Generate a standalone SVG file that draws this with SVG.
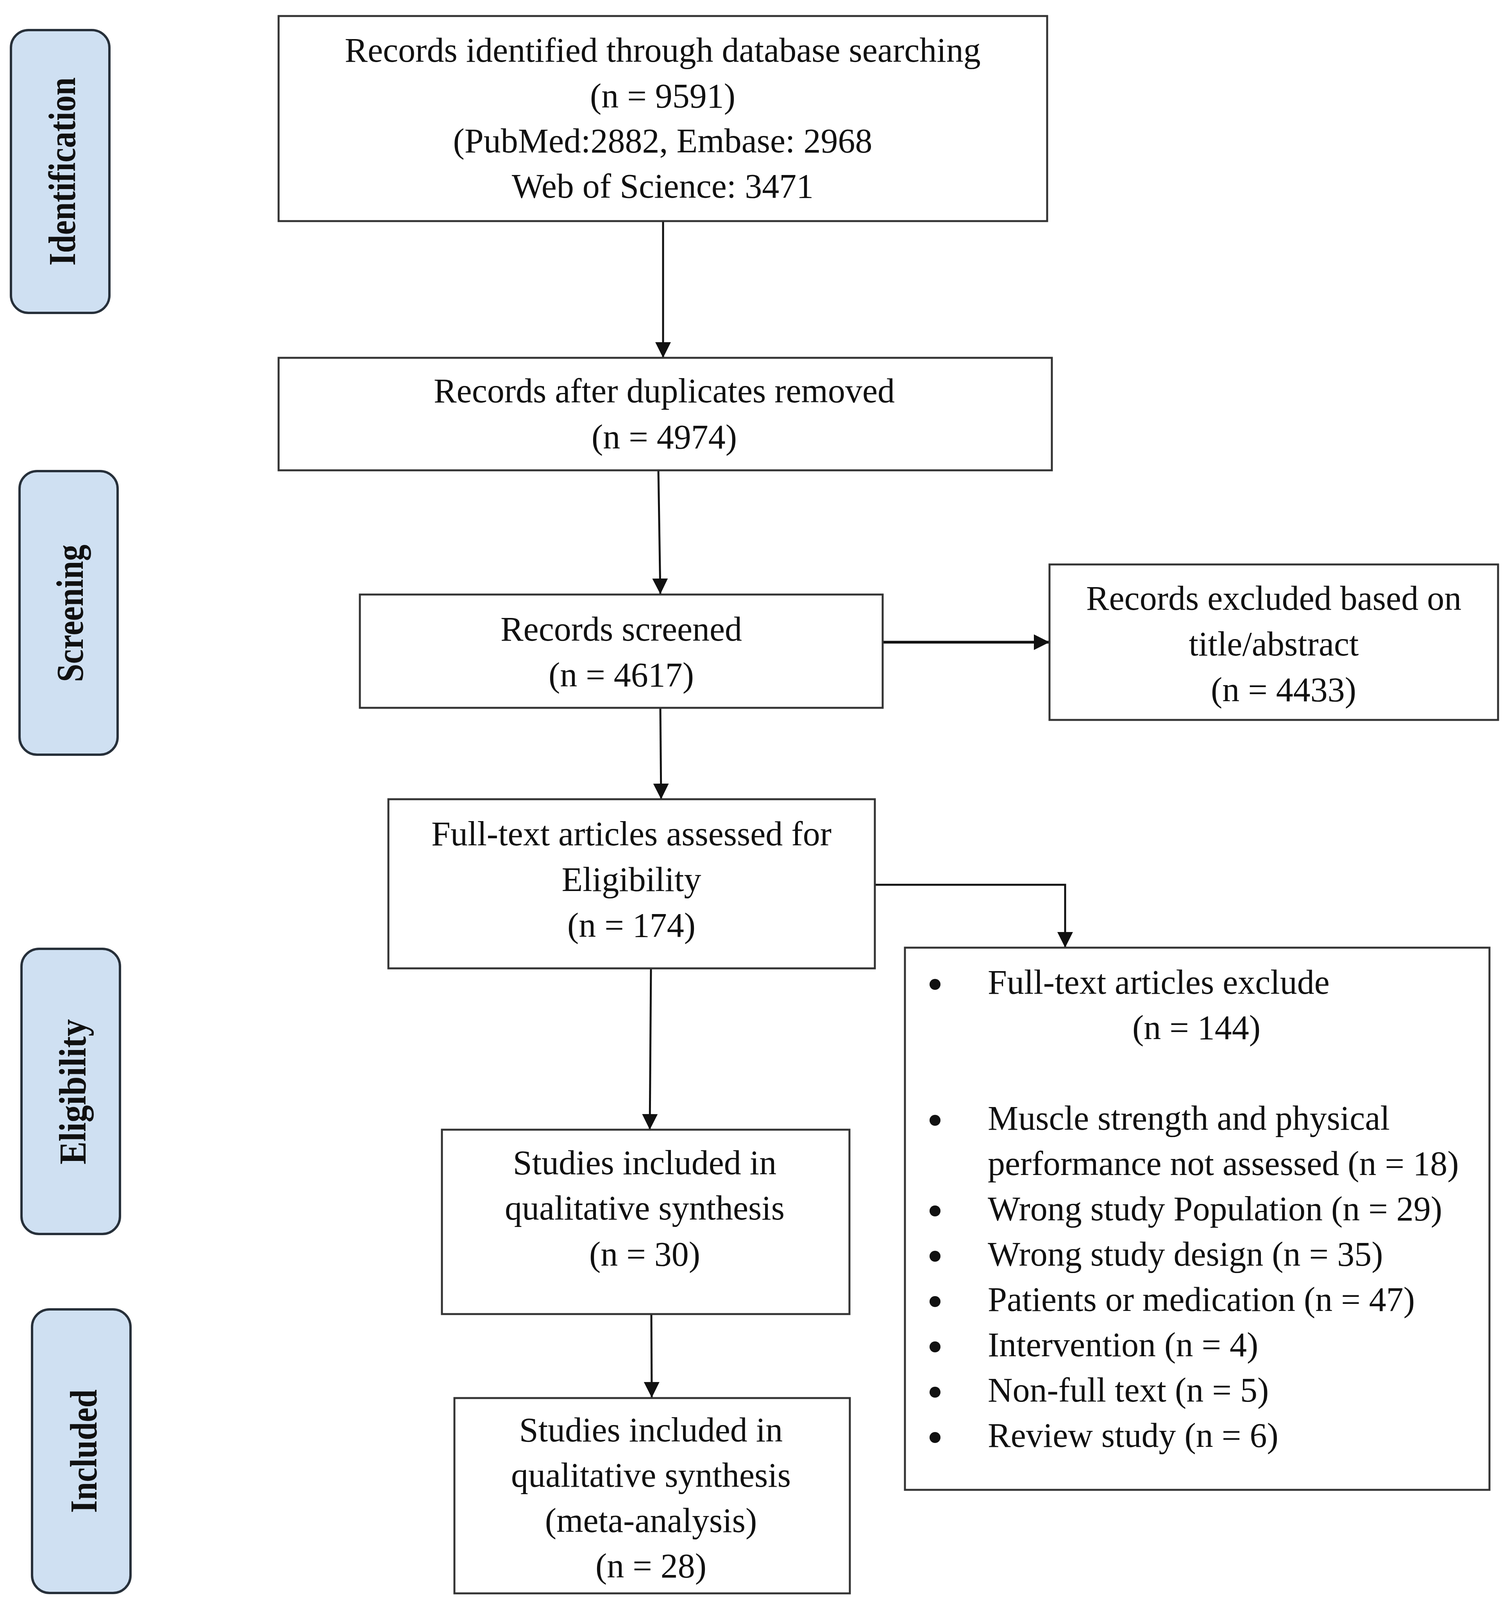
<svg xmlns="http://www.w3.org/2000/svg" width="3862" height="4331" viewBox="0 0 3862 4331">
<style>
.box{fill:#ffffff;stroke:#333333;stroke-width:5}
.pill{fill:#cfe0f2;stroke:#27303a;stroke-width:6}
.t{font-family:"Liberation Serif","Times New Roman",serif;font-size:88px;fill:#111111}
.c{text-anchor:middle}
.p{font-family:"Liberation Serif","Times New Roman",serif;font-size:98px;font-weight:bold;fill:#111111;text-anchor:middle}
.ln{fill:none;stroke:#111111;stroke-width:5}
.bul{fill:#111111}
</style>
<defs>
<marker id="ah" markerUnits="userSpaceOnUse" markerWidth="40" markerHeight="40" refX="40" refY="20" orient="auto">
<path d="M0,0 L40,20 L0,40 Z" fill="#111111"/>
</marker>
</defs>
<rect width="3862" height="4331" fill="#ffffff"/>

<g id="stage-identification">
<rect class="pill" x="28" y="77" width="252" height="724" rx="45" ry="45"/>
<text class="p" transform="translate(192,439) rotate(-90)" textLength="482" lengthAdjust="spacingAndGlyphs">Identification</text>
</g>
<g id="stage-screening">
<rect class="pill" x="50" y="1206" width="251" height="726" rx="45" ry="45"/>
<text class="p" transform="translate(212,1570) rotate(-90)" textLength="352" lengthAdjust="spacingAndGlyphs">Screening</text>
</g>
<g id="stage-eligibility">
<rect class="pill" x="55" y="2429" width="252" height="730" rx="45" ry="45"/>
<text class="p" transform="translate(219,2795) rotate(-90)" textLength="372" lengthAdjust="spacingAndGlyphs">Eligibility</text>
</g>
<g id="stage-included">
<rect class="pill" x="82" y="3352" width="252" height="726" rx="45" ry="45"/>
<text class="p" transform="translate(247,3715) rotate(-90)" textLength="316" lengthAdjust="spacingAndGlyphs">Included</text>
</g>

<g id="connectors">
<line class="ln" x1="1697" y1="566" x2="1697" y2="916" marker-end="url(#ah)"/>
<line class="ln" x1="1685" y1="1205" x2="1690" y2="1521" marker-end="url(#ah)"/>
<line class="ln" x1="2259" y1="1644" x2="2686" y2="1644" style="stroke-width:7" marker-end="url(#ah)"/>
<line class="ln" x1="1690" y1="1812" x2="1692" y2="2046" marker-end="url(#ah)"/>
<polyline class="ln" points="2239,2265 2726,2265 2726,2426" marker-end="url(#ah)"/>
<line class="ln" x1="1666" y1="2479" x2="1663" y2="2892" marker-end="url(#ah)"/>
<line class="ln" x1="1667" y1="3364" x2="1668" y2="3578" marker-end="url(#ah)"/>
</g>

<g id="n-identified">
<rect class="box" x="713" y="41" width="1967" height="525"/>
<text class="t c" x="1696" y="158">Records identified through database searching</text>
<text class="t c" x="1696" y="275">(n = 9591)</text>
<text class="t c" x="1696" y="390">(PubMed:2882, Embase: 2968</text>
<text class="t c" x="1696" y="506">Web of Science: 3471</text>
</g>

<g id="n-deduplicated">
<rect class="box" x="713" y="916" width="1979" height="288"/>
<text class="t c" x="1700" y="1030">Records after duplicates removed</text>
<text class="t c" x="1700" y="1148">(n = 4974)</text>
</g>

<g id="n-screened">
<rect class="box" x="921" y="1522" width="1338" height="290"/>
<text class="t c" x="1590" y="1640">Records screened</text>
<text class="t c" x="1590" y="1757">(n = 4617)</text>
</g>

<g id="n-excluded-title">
<rect class="box" x="2686" y="1445" width="1148" height="398"/>
<text class="t c" x="3260" y="1561">Records excluded based on</text>
<text class="t c" x="3260" y="1678">title/abstract</text>
<text class="t c" x="3285" y="1795">(n = 4433)</text>
</g>

<g id="n-fulltext">
<rect class="box" x="994" y="2046" width="1245" height="433"/>
<text class="t c" x="1616" y="2164">Full-text articles assessed for</text>
<text class="t c" x="1616" y="2281">Eligibility</text>
<text class="t c" x="1616" y="2398">(n = 174)</text>
</g>

<g id="n-excluded-fulltext">
<rect class="box" x="2316" y="2426" width="1496" height="1388"/>
<circle class="bul" cx="2393" cy="2520" r="14"/>
<text class="t" x="2528" y="2544">Full-text articles exclude</text>
<text class="t c" x="3062" y="2660">(n = 144)</text>
<circle class="bul" cx="2393" cy="2868" r="14"/>
<text class="t" x="2528" y="2892">Muscle strength and physical</text>
<text class="t" x="2528" y="3008">performance not assessed (n = 18)</text>
<circle class="bul" cx="2393" cy="3100" r="14"/>
<text class="t" x="2528" y="3124">Wrong study Population (n = 29)</text>
<circle class="bul" cx="2393" cy="3216" r="14"/>
<text class="t" x="2528" y="3240">Wrong study design (n = 35)</text>
<circle class="bul" cx="2393" cy="3332" r="14"/>
<text class="t" x="2528" y="3356">Patients or medication (n = 47)</text>
<circle class="bul" cx="2393" cy="3448" r="14"/>
<text class="t" x="2528" y="3472">Intervention (n = 4)</text>
<circle class="bul" cx="2393" cy="3564" r="14"/>
<text class="t" x="2528" y="3588">Non-full text (n = 5)</text>
<circle class="bul" cx="2393" cy="3680" r="14"/>
<text class="t" x="2528" y="3704">Review study (n = 6)</text>
</g>

<g id="n-qualitative">
<rect class="box" x="1131" y="2892" width="1043" height="472"/>
<text class="t c" x="1650" y="3006">Studies included in</text>
<text class="t c" x="1650" y="3122">qualitative synthesis</text>
<text class="t c" x="1650" y="3240">(n = 30)</text>
</g>

<g id="n-meta">
<rect class="box" x="1163" y="3579" width="1012" height="500"/>
<text class="t c" x="1666" y="3690">Studies included in</text>
<text class="t c" x="1666" y="3806">qualitative synthesis</text>
<text class="t c" x="1666" y="3922">(meta-analysis)</text>
<text class="t c" x="1666" y="4038">(n = 28)</text>
</g>
</svg>
